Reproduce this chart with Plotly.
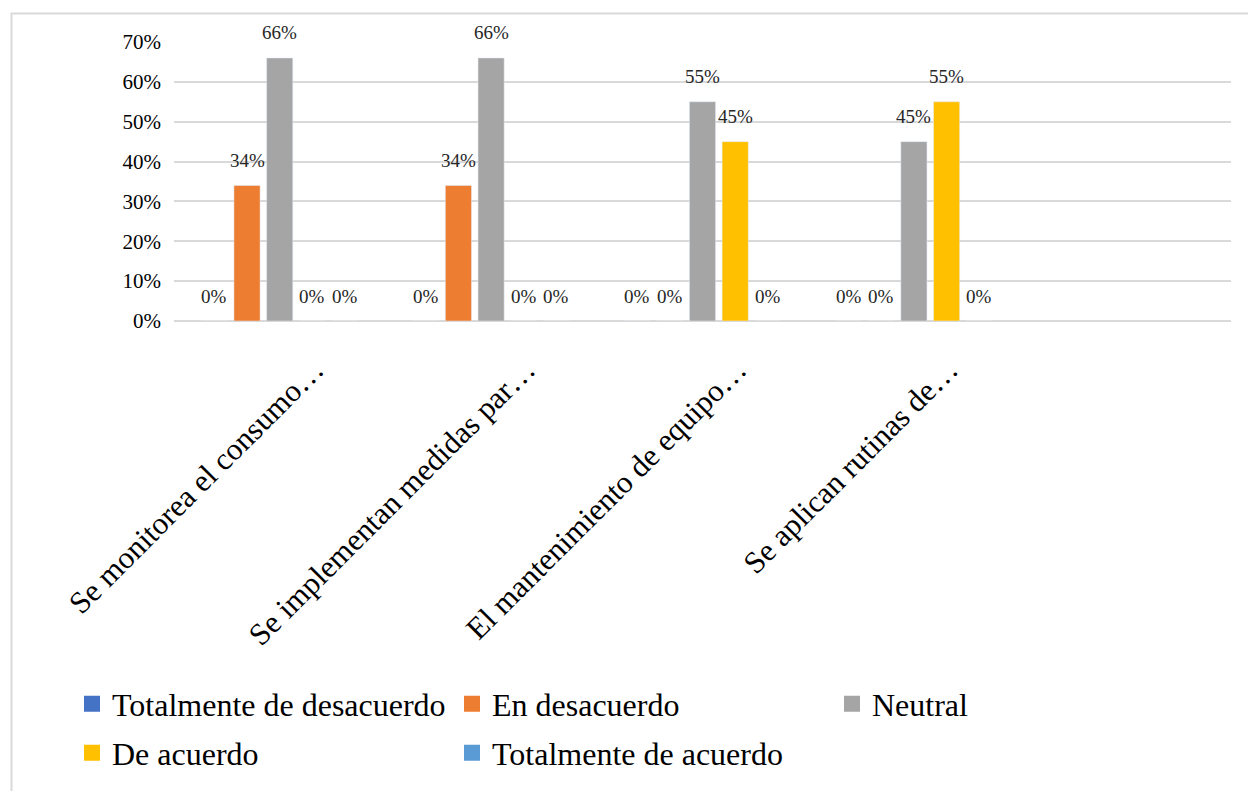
import plotly.graph_objects as go

categories = ["Se monitorea el consumo…", "Se implementan medidas par…",
              "El mantenimiento de equipo…", "Se aplican rutinas de…", " "]
series_names = ["Totalmente de desacuerdo", "En desacuerdo", "Neutral",
                "De acuerdo", "Totalmente de acuerdo"]
totalmente_desacuerdo = [0.00, 0.00, 0.00, 0.00]
en_desacuerdo = [0.34, 0.34, 0.00, 0.00]
neutral = [0.66, 0.66, 0.55, 0.45]
de_acuerdo = [0.00, 0.00, 0.45, 0.55]
totalmente_acuerdo = [0.00, 0.00, 0.00, 0.00]
y_ticks = [0, 0.1, 0.2, 0.3, 0.4, 0.5, 0.6, 0.7]

colors = ["#4472C4", "#ED7D31", "#A5A5A5", "#FFC000", "#5B9BD5"]
series_values = [totalmente_desacuerdo, en_desacuerdo, neutral, de_acuerdo, totalmente_acuerdo]

FONT = "Liberation Serif"
W, H = 1248, 791
L, R, T, B = 174, 17, 42, 470
BARGAP = 0.227
nser = len(series_names)
slot = (1 - BARGAP) / nser

fig = go.Figure()
data_cats = categories[:len(neutral)]
for j, (name, vals, col) in enumerate(zip(series_names, series_values, colors)):
    fig.add_trace(go.Bar(x=data_cats, y=vals, name=name, marker_color=col,
                         showlegend=False, hoverinfo="skip"))

# legend proxies (larger swatches), each in its own legend box
legend_pos = [(112, 704), (492, 704), (872, 704), (112, 753), (492, 753)]
for j, (name, col) in enumerate(zip(series_names, colors)):
    lg = "legend" if j == 0 else f"legend{j+1}"
    fig.add_trace(go.Scatter(x=[None], y=[None], mode="markers", name=name,
                             marker=dict(symbol="square", size=16, color=col),
                             showlegend=True, legend=lg))

annotations = []
for j, vals in enumerate(series_values):
    for i, v in enumerate(vals):
        annotations.append(dict(x=i + (j - (nser - 1) / 2) * slot, y=v, xref="x", yref="y",
                                text=f"{round(v*100)}%", showarrow=False, yshift=25,
                                yanchor="middle", xanchor="center",
                                font=dict(family=FONT, size=19, color="#262626")))

legends = {}
for j, (px, py) in enumerate(legend_pos):
    key = "legend" if j == 0 else f"legend{j+1}"
    legends[key] = dict(xref="container", yref="container",
                        x=(px - 40) / W, y=1 - py / H, xanchor="left", yanchor="middle",
                        font=dict(family=FONT, size=32, color="#000000"),
                        bgcolor="rgba(0,0,0,0)", borderwidth=0, itemwidth=30)

# chart-area border (top and left edges visible)
pw, ph = W - L - R, H - T - B
bx0 = (11.5 - L) / pw
bx1 = (W + 5 - L) / pw
by1 = (H - B - 13.5) / ph
by0 = (H - B - (H + 5)) / ph

fig.update_layout(
    width=W, height=H,
    margin=dict(l=L, r=R, t=T, b=B, autoexpand=False),
    paper_bgcolor="white", plot_bgcolor="white",
    barmode="group", bargap=BARGAP, bargroupgap=0.2,
    font=dict(family=FONT, color="#000000"),
    annotations=annotations,
    shapes=[dict(type="rect", xref="paper", yref="paper", x0=bx0, x1=bx1, y0=by0, y1=by1,
                 line=dict(color="#d9d9d9", width=2), layer="below")],
    **legends,
)
fig.update_xaxes(type="category", categoryorder="array", categoryarray=categories,
                 range=[-0.5, len(categories) - 0.5], tickangle=-45,
                 tickfont=dict(family=FONT, size=31, color="#000000"),
                 showgrid=False, showline=False, ticks="",
                 ticklabelshift=35, ticklabelstandoff=23)
fig.update_yaxes(range=[0, 0.7], tickvals=y_ticks, tickformat=".0%",
                 tickfont=dict(family=FONT, size=21, color="#000000"),
                 showgrid=True, gridcolor="#d9d9d9", gridwidth=2,
                 zeroline=True, zerolinecolor="#d9d9d9", zerolinewidth=2,
                 showline=False, ticks="", ticklabelstandoff=12)

fig.write_html("out.html")
